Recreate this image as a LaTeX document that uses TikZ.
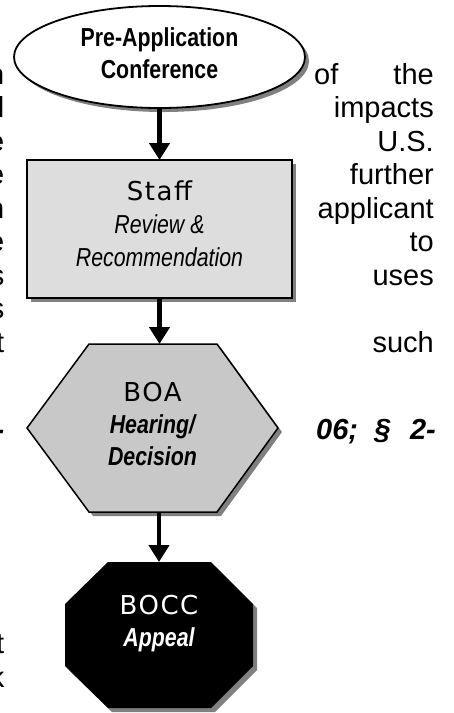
\documentclass[tikz,border=0pt]{standalone}
\usepackage{fontspec}
\setmainfont{Liberation Sans}
\newfontfamily\narrowfont[FakeStretch=0.82]{Liberation Sans}
\newfontfamily\spacedfont[LetterSpace=6]{DejaVu Sans}
\usetikzlibrary{shapes.geometric,shadows,arrows.meta}
\definecolor{staffgray}{HTML}{DDDDDD}
\definecolor{boagray}{HTML}{C8C8C8}
\definecolor{shadowgray}{HTML}{808080}

\begin{document}
\begin{tikzpicture}
[x=1pt,y=-1pt,>={Triangle[width=20pt,length=17pt]},
flow/.style={->,line width=4.5pt},
shade/.style={drop shadow={shadow xshift=4pt,shadow yshift=-4pt,fill=shadowgray,opacity=1}},
body/.style={inner sep=0pt,font=\fontsize{29}{33.5}\selectfont},
bodybi/.style={inner sep=0pt,font=\fontsize{29}{33.5}\selectfont\bfseries\itshape},
boxtext/.style={align=center,inner sep=0pt,outer sep=0pt,font=\fontsize{26}{32}\selectfont},]
\useasboundingbox (0,0) rectangle (454,713);

% page text round the chart
\node (cutA) at (4.5,84)[body,anchor=base east]{n};
\node (cutB) at (4.5,117.5)[body,anchor=base east]{l};
\node (cutC) at (4.5,151)[body,anchor=base east]{e};
\node (cutD) at (4.5,184.5)[body,anchor=base east]{e};
\node (cutE) at (4.5,218)[body,anchor=base east]{n};
\node (cutF) at (4.5,251.5)[body,anchor=base east]{e};
\node (cutG) at (4.5,285)[body,anchor=base east]{s};
\node (cutH) at (4.5,318.5)[body,anchor=base east]{s};
\node (cutI) at (4.5,352)[body,anchor=base east]{t};
\node (cutJ) at (4.5,439)[bodybi,anchor=base east]{-};
\node (cutK) at (4.5,653.5)[body,anchor=base east]{t};
\node (cutL) at (4.5,687)[body,anchor=base east]{k};

\node (of) at (314,84)[body,anchor=base west]{of};
\node (the) at (434,84)[body,anchor=base east]{the};
\node (impacts) at (434,117.5)[body,anchor=base east]{impacts};
\node (us) at (434,151)[body,anchor=base east]{U.S.};
\node (further) at (434,184.5)[body,anchor=base east]{further};
\node (applicant) at (434,218)[body,anchor=base east]{applicant};
\node (to) at (434,251.5)[body,anchor=base east]{to};
\node (uses) at (434,285)[body,anchor=base east]{uses};
\node (such) at (434,352)[body,anchor=base east]{such};
\node (sixes) at (316,439)[bodybi,anchor=base west]{06;};
\node (sect) at (382.5,439)[bodybi,anchor=base]{§};
\node (two) at (436,439)[bodybi,anchor=base east]{2-};

% chart
\node (conf) at (159.5,57)[ellipse,draw,line width=1.8pt,fill=white,minimum width=291pt,minimum height=102pt,shade,boxtext,text depth=7pt,font=\narrowfont\bfseries\fontsize{26}{32}\selectfont]{Pre-Application\\Conference};
\node (staff) at (159.5,229)[rectangle,draw,line width=2pt,fill=staffgray,minimum width=265pt,minimum height=138pt,shade,boxtext,text depth=10pt,font=\fontsize{26}{33}\selectfont]{{\spacedfont Staff}\\{\narrowfont\itshape Review \&}\\{\narrowfont\itshape Recommendation}};

\fill[shadowgray,xshift=4pt,yshift=-4pt] (27,428) -- (89,344) -- (217,344) -- (278,428) -- (217,512) -- (89,512) -- cycle;
\filldraw[fill=boagray,line width=1.5pt] (27,428) -- (89,344) -- (217,344) -- (278,428) -- (217,512) -- (89,512) -- cycle;
\node (boa) at (152.5,428)[boxtext,minimum width=251pt,minimum height=168pt,text depth=8pt]{{\spacedfont BOA}\\{\narrowfont\bfseries\itshape Hearing/}\\{\narrowfont\bfseries\itshape Decision}};

\fill[shadowgray,xshift=4pt,yshift=-4pt] (108,562) -- (211,562) -- (253,604) -- (253,666) -- (211,708) -- (108,708) -- (65,666) -- (65,604) -- cycle;
\fill[black] (108,562) -- (211,562) -- (253,604) -- (253,666) -- (211,708) -- (108,708) -- (65,666) -- (65,604) -- cycle;
\node (bocc) at (159,635)[boxtext,text=white,minimum width=188pt,minimum height=146pt,text depth=29pt]{{\spacedfont BOCC}\\{\narrowfont\bfseries\itshape Appeal}};

\draw[flow] (conf) -- (staff);
\draw[flow] (staff) -- (staff |- boa.north);
\draw[flow] (bocc |- boa.south) -- (bocc);

\end{tikzpicture}
\end{document}
